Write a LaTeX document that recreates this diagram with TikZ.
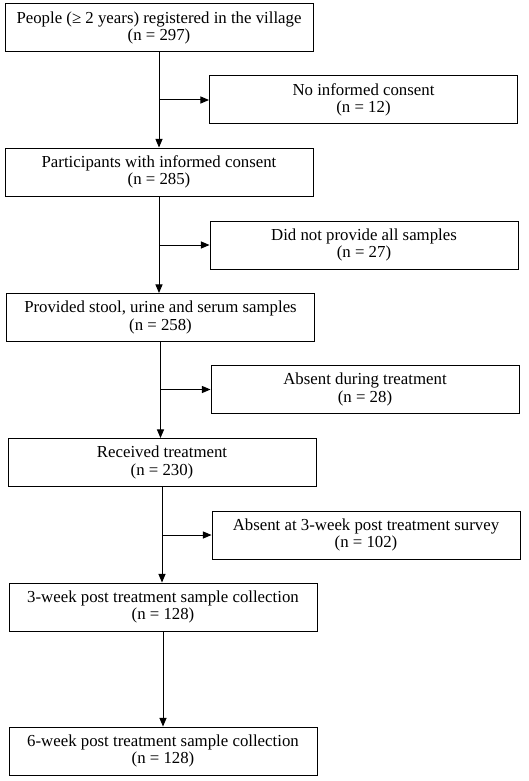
\documentclass[tikz,border=0pt]{standalone}
\usepackage{fontspec}
\setmainfont{Liberation Serif}
\usetikzlibrary{arrows}

\begin{document}
\begin{tikzpicture}[x=1pt,y=-1pt,
  box/.style={draw,line width=1pt,minimum width=308pt,minimum height=48pt,
    align=center,inner sep=0pt,font=\fontsize{16.8}{17.5}\selectfont},
  flow/.style={line width=1pt,->,>=triangle 45}]
\useasboundingbox (0,0) rectangle (529,781);

\node[box] (people) at (159,28) {People (≥ 2 years) registered in the village\\(n = 297)};
\node[box] (noconsent) at (363.5,100) {No informed consent\\(n = 12)};
\node[box] (consent) at (159,172) {Participants with informed consent\\(n = 285)};
\node[box] (nosamples) at (364,245) {Did not provide all samples\\(n = 27)};
\node[box] (samples) at (160.5,317.5) {Provided stool, urine and serum samples\\(n = 258)};
\node[box] (absent) at (365,389.5) {Absent during treatment\\(n = 28)};
\node[box] (treated) at (162,462.5) {Received treatment\\(n = 230)};
\node[box] (absentsurvey) at (366,535) {Absent at 3-week post treatment survey\\(n = 102)};
\node[box] (week3) at (163,607) {3-week post treatment sample collection\\(n = 128)};
\node[box] (week6) at (163,751) {6-week post treatment sample collection\\(n = 128)};

\draw[flow] (people.south) -- (people.south |- consent.north);
\draw[flow] (people.south |- noconsent.west) -- (noconsent.west);
\draw[flow] (consent.south) -- (consent.south |- samples.north);
\draw[flow] (consent.south |- nosamples.west) -- (nosamples.west);
\draw[flow] (samples.south) -- (samples.south |- treated.north);
\draw[flow] (samples.south |- absent.west) -- (absent.west);
\draw[flow] (treated.south) -- (treated.south |- week3.north);
\draw[flow] (treated.south |- absentsurvey.west) -- (absentsurvey.west);
\draw[flow] (week3.south) -- (week6.north);

\end{tikzpicture}
\end{document}
